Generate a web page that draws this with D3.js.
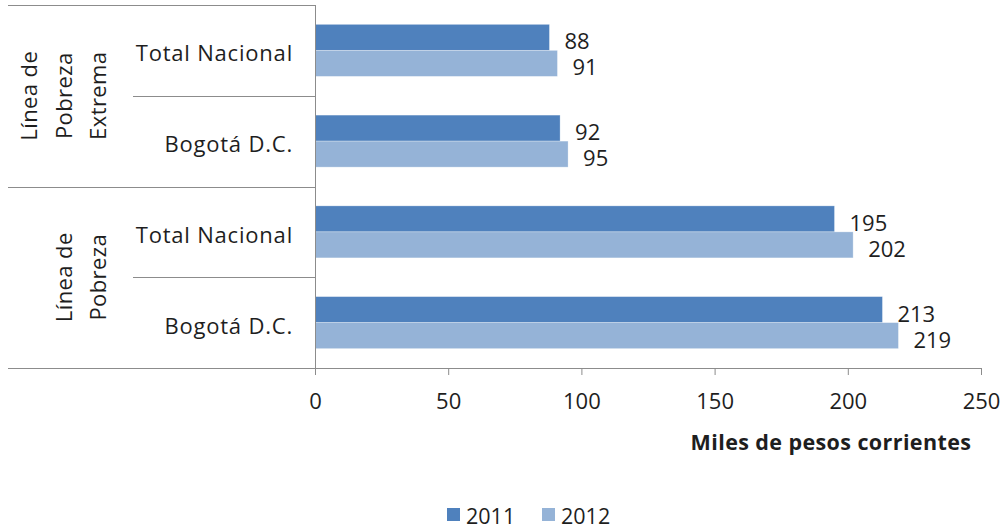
<!DOCTYPE html>
<html><head><meta charset="utf-8">
<script src="https://cdn.jsdelivr.net/npm/d3@7/dist/d3.min.js"></script>
<style>body{margin:0;background:#fff;} svg{display:block;font-family:"Open Sans",sans-serif;}</style>
</head><body>
<script>
const categories = ["Total Nacional","Bogotá D.C.","Total Nacional","Bogotá D.C."];
const categoryGroup = [0,0,1,1];
const groupLines = [["Línea de","Pobreza","Extrema"],["Línea de","Pobreza"]];
const series = ["2011","2012"];
const values2011 = [88,92,195,213];
const values2012 = [91,95,202,219];
const xTicks = [0,50,100,150,200,250];
const axisTitle = "Miles de pesos corrientes";

const colors = {"2011":"#4F81BD","2012":"#95B3D7"};
const W=1007,H=529;
const svg=d3.select("body").append("svg").attr("width",W).attr("height",H);
const x=d3.scaleLinear().domain([0,250]).range([315,981]);
const y=d3.scaleBand().domain(d3.range(categories.length)).range([5,368]).padding(0);
const sub=d3.scaleBand().domain(series).range([0,y.bandwidth()]).paddingInner(0).paddingOuter(0.745);
const vals={"2011":values2011,"2012":values2012};
const lineColor="#8c8c8c", textColor="#1e1e1e";

// bars
series.forEach(s=>{
  svg.append("g").selectAll("rect").data(vals[s]).join("rect")
    .attr("x",x(0)).attr("y",(d,i)=>y(i)+sub(s))
    .attr("width",d=>x(d)-x(0)).attr("height",sub.bandwidth())
    .attr("fill",colors[s]).attr("stroke","#fff").attr("stroke-opacity",0.35).attr("stroke-width",0.8);
  svg.append("g").selectAll("text").data(vals[s]).join("text")
    .attr("x",d=>x(d)+15).attr("y",(d,i)=>y(i)+sub(s)+sub.bandwidth()/2+3)
    .attr("dominant-baseline","central").attr("font-size",22).attr("fill",textColor)
    .text(d=>d);
});

// x axis
const xa=svg.append("g").attr("transform","translate(0,368)")
  .call(d3.axisBottom(x).tickValues(xTicks).tickSize(7).tickPadding(18).tickFormat(d3.format("d")));
xa.select(".domain").attr("stroke",lineColor).attr("d","M8,0.5H981.5");
xa.selectAll(".tick line").attr("stroke",lineColor);
xa.selectAll(".tick text").attr("font-size",22).attr("fill",textColor).attr("font-family","Open Sans");

svg.append("text").attr("x",831).attr("y",441).attr("text-anchor","middle").attr("dominant-baseline","central")
  .attr("font-size",21.5).attr("letter-spacing",0.4).attr("font-weight","bold").attr("fill",textColor).text(axisTitle);

// y axis line
svg.append("line").attr("x1",315.5).attr("x2",315.5).attr("y1",5).attr("y2",375).attr("stroke",lineColor);
// group separators
const groupBounds=[0,1].map(g=>{const idx=d3.range(categories.length).filter(i=>categoryGroup[i]===g);return [y(idx[0]),y(idx[idx.length-1])+y.bandwidth()];});
svg.append("line").attr("x1",8).attr("x2",315).attr("y1",5.5).attr("y2",5.5).attr("stroke",lineColor);
groupBounds.forEach((b,g)=>{
  if(g<groupBounds.length-1) svg.append("line").attr("x1",8).attr("x2",315).attr("y1",Math.round(b[1])+0.5).attr("y2",Math.round(b[1])+0.5).attr("stroke",lineColor);
});
// category separators within groups
d3.range(categories.length-1).forEach(i=>{
  if(categoryGroup[i]===categoryGroup[i+1]){
    const yy=Math.round(y(i)+y.bandwidth())+0.5;
    svg.append("line").attr("x1",133).attr("x2",315).attr("y1",yy).attr("y2",yy).attr("stroke",lineColor);
  }
});
// category labels
svg.append("g").selectAll("text").data(categories).join("text")
  .attr("x",293).attr("y",(d,i)=>y(i)+y.bandwidth()/2+2).attr("text-anchor","end").attr("dominant-baseline","central")
  .attr("font-size",22).attr("letter-spacing",0.8).attr("fill",textColor).text(d=>d);
// group labels
groupLines.forEach((lines,g)=>{
  const cy=(groupBounds[g][0]+groupBounds[g][1])/2;
  const n=lines.length;
  lines.forEach((t,k)=>{
    const cx=97-(n-1-k)*34.5;
    svg.append("text").attr("transform",`translate(${cx},${cy}) rotate(-90)`)
      .attr("text-anchor","middle").attr("dominant-baseline","central").attr("font-size",22).attr("letter-spacing",0.4).attr("fill",textColor).text(t);
  });
});
// legend
const lg=svg.append("g");
const lx=[447,542];
series.forEach((s,i)=>{
  lg.append("rect").attr("x",lx[i]).attr("y",508).attr("width",13).attr("height",13).attr("fill",colors[s]);
  lg.append("text").attr("x",lx[i]+19).attr("y",515).attr("dominant-baseline","central").attr("font-size",21.5).attr("fill",textColor).text(s);
});
</script>
</body></html>
